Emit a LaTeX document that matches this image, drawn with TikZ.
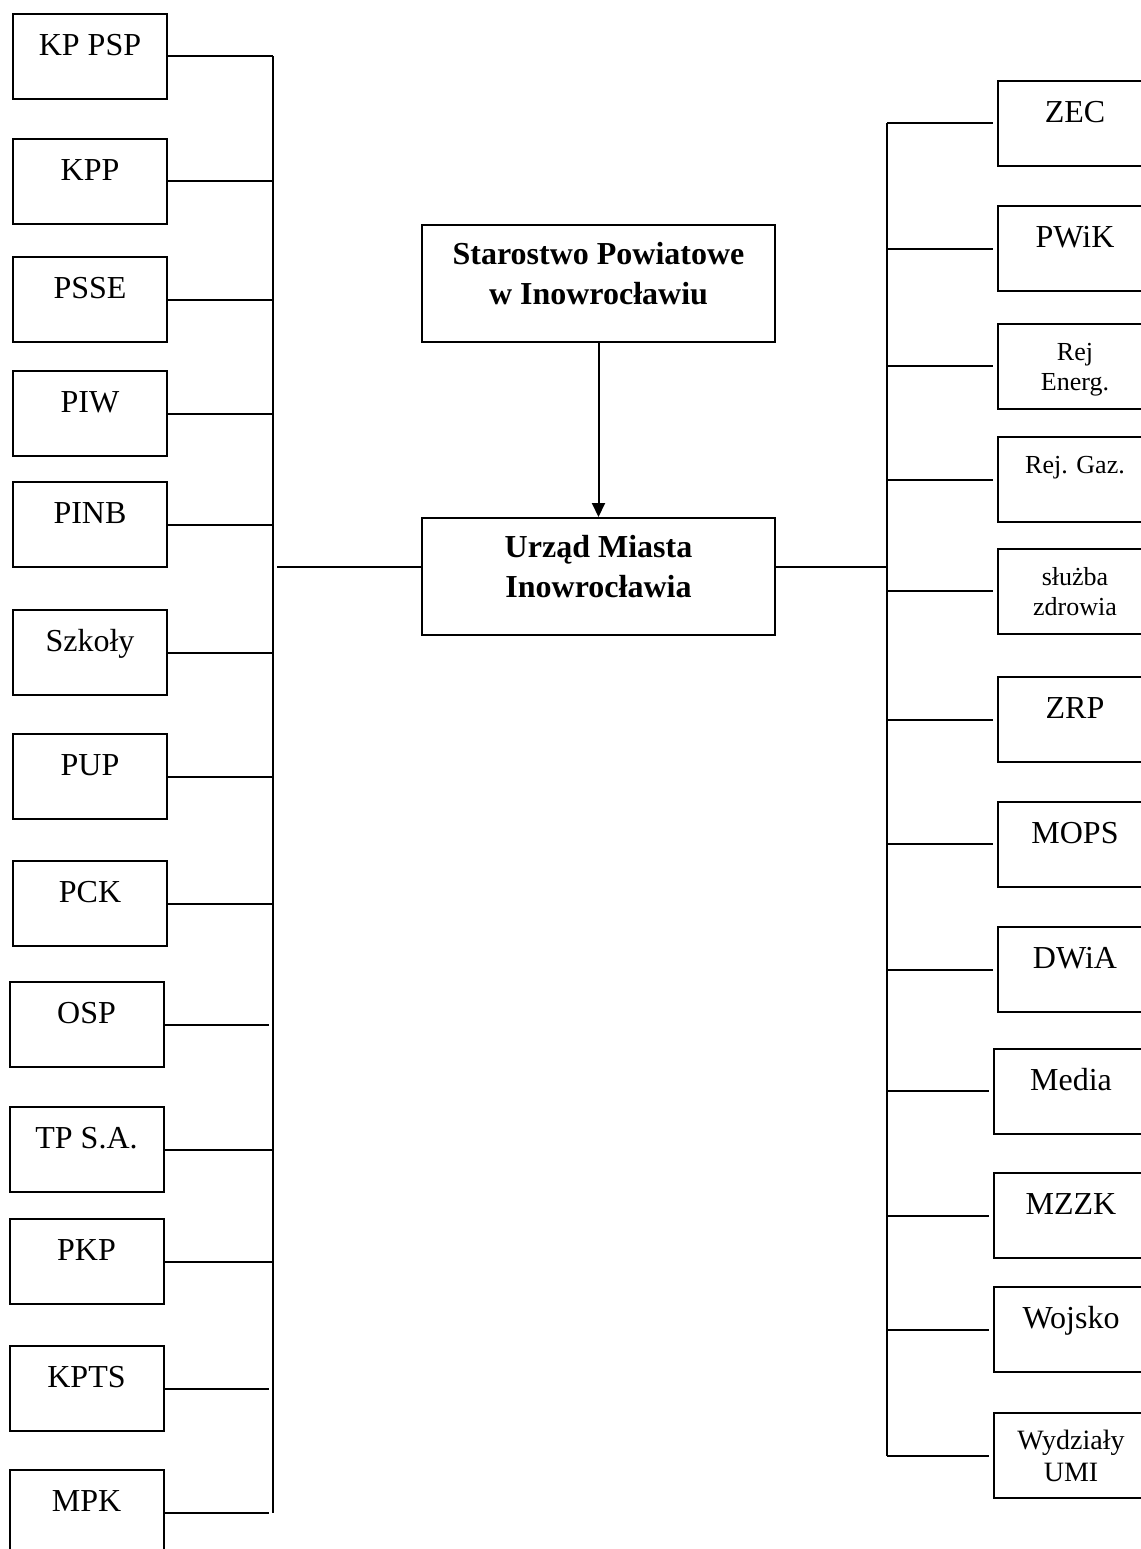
\documentclass[tikz,border=0pt]{standalone}
\usepackage{fontspec}
\setmainfont{Liberation Serif}
\usepackage{tikz}
\usetikzlibrary{
    arrows.meta,
}
\tikzstyle{unit}=[draw, inner sep=0pt, minimum width=77pt, align=center, text height=20.75pt, text depth=21.75pt, font=\fontsize{16}{19}\selectfont]
\tikzstyle{smallunit}=[unit, text height=18.3pt, text depth=24.2pt, font=\fontsize{13}{15}\selectfont]
\tikzstyle{smallpair}=[unit, text height=33.3pt, text depth=9.2pt, font=\fontsize{13}{15}\selectfont]
\tikzstyle{widepair}=[unit, text height=34.1pt, text depth=8.4pt, font=\fontsize{14}{16}\selectfont]
\tikzstyle{mainunit}=[draw, inner sep=0pt, minimum width=176.5pt, align=center, text height=39.8pt, text depth=18.7pt, font=\bfseries\fontsize{16}{20}\selectfont]
\tikzstyle{arrow}=[-{Triangle[length=7pt, width=6.5pt]}]
\tikzstyle{link}=[shorten >=2pt]

\begin{document}
\begin{tikzpicture}[x=0.5pt, y=-0.5pt, line width=1pt]
            \useasboundingbox (0,0) rectangle (1141,1549);
            \node[mainunit] (starostwo) at (598.5,283) {Starostwo Powiatowe\\w Inowrocławiu};
            \node[mainunit] (urzad) at (598.5,576.5) {Urząd Miasta\\Inowrocławia};
            \draw[arrow] (starostwo) -- (urzad);
            % left column
            \node[unit] (kppsp) at (90,56) {KP PSP};
            \node[unit] (kpp) at (90,181) {KPP};
            \node[unit] (psse) at (90,299.5) {PSSE};
            \node[unit] (piw) at (90,413.5) {PIW};
            \node[unit] (pinb) at (90,524.5) {PINB};
            \node[unit] (szkoly) at (90,652.5) {Szkoły};
            \node[unit] (pup) at (90,776.5) {PUP};
            \node[unit] (pck) at (90,903.5) {PCK};
            \node[unit] (osp) at (86.5,1024.5) {OSP};
            \node[unit] (tpsa) at (86.5,1149.5) {TP S.A.};
            \node[unit] (pkp) at (86.5,1261.5) {PKP};
            \node[unit] (kpts) at (86.5,1388.5) {KPTS};
            \node[unit] (mpk) at (86.5,1512.5) {MPK};
            \coordinate (lbus) at (273,0);
            \draw (kppsp.east -| lbus) -- (mpk.east -| lbus);
            \draw (kppsp.east) -- (kppsp.east -| lbus);
            \draw (kpp.east) -- (kpp.east -| lbus);
            \draw (psse.east) -- (psse.east -| lbus);
            \draw (piw.east) -- (piw.east -| lbus);
            \draw (pinb.east) -- (pinb.east -| lbus);
            \draw (szkoly.east) -- (szkoly.east -| lbus);
            \draw (pup.east) -- (pup.east -| lbus);
            \draw (pck.east) -- (pck.east -| lbus);
            \draw[link] (osp.east) -- (osp.east -| lbus);
            \draw (tpsa.east) -- (tpsa.east -| lbus);
            \draw (pkp.east) -- (pkp.east -| lbus);
            \draw[link] (kpts.east) -- (kpts.east -| lbus);
            \draw[link] (mpk.east) -- (mpk.east -| lbus);
            \draw ([yshift=4.75pt]urzad.west) -- ([xshift=2pt,yshift=4.75pt]urzad.west -| lbus);
            % right column
            \node[unit] (zec) at (1075,123) {ZEC};
            \node[unit] (pwik) at (1075,248.5) {PWiK};
            \node[smallpair] (rejenerg) at (1075,366) {Rej\\Energ.};
            \node[smallunit] (rejgaz) at (1075,479.5) {Rej. Gaz.};
            \node[smallpair] (sluzba) at (1075,591) {służba\\zdrowia};
            \node[unit] (zrp) at (1075,719.5) {ZRP};
            \node[unit] (mops) at (1075,844) {MOPS};
            \node[unit] (dwia) at (1075,969.5) {DWiA};
            \node[unit] (media) at (1071,1091) {Media};
            \node[unit] (mzzk) at (1071,1215.5) {MZZK};
            \node[unit] (wojsko) at (1071,1329.5) {Wojsko};
            \node[widepair] (wydzialy) at (1071,1455.5) {Wydziały\\UMI};
            \coordinate (rbus) at (887,0);
            \draw (zec.west -| rbus) -- (wydzialy.west -| rbus);
            \draw[link] (zec.west -| rbus) -- (zec.west);
            \draw[link] (pwik.west -| rbus) -- (pwik.west);
            \draw[link] (rejenerg.west -| rbus) -- (rejenerg.west);
            \draw[link] (rejgaz.west -| rbus) -- (rejgaz.west);
            \draw[link] (sluzba.west -| rbus) -- (sluzba.west);
            \draw[link] (zrp.west -| rbus) -- (zrp.west);
            \draw[link] (mops.west -| rbus) -- (mops.west);
            \draw[link] (dwia.west -| rbus) -- (dwia.west);
            \draw[link] (media.west -| rbus) -- (media.west);
            \draw[link] (mzzk.west -| rbus) -- (mzzk.west);
            \draw[link] (wojsko.west -| rbus) -- (wojsko.west);
            \draw[link] (wydzialy.west -| rbus) -- (wydzialy.west);
            \draw ([yshift=4.75pt]urzad.east) -- ([yshift=4.75pt]urzad.east -| rbus);
        \end{tikzpicture}
\end{document}
